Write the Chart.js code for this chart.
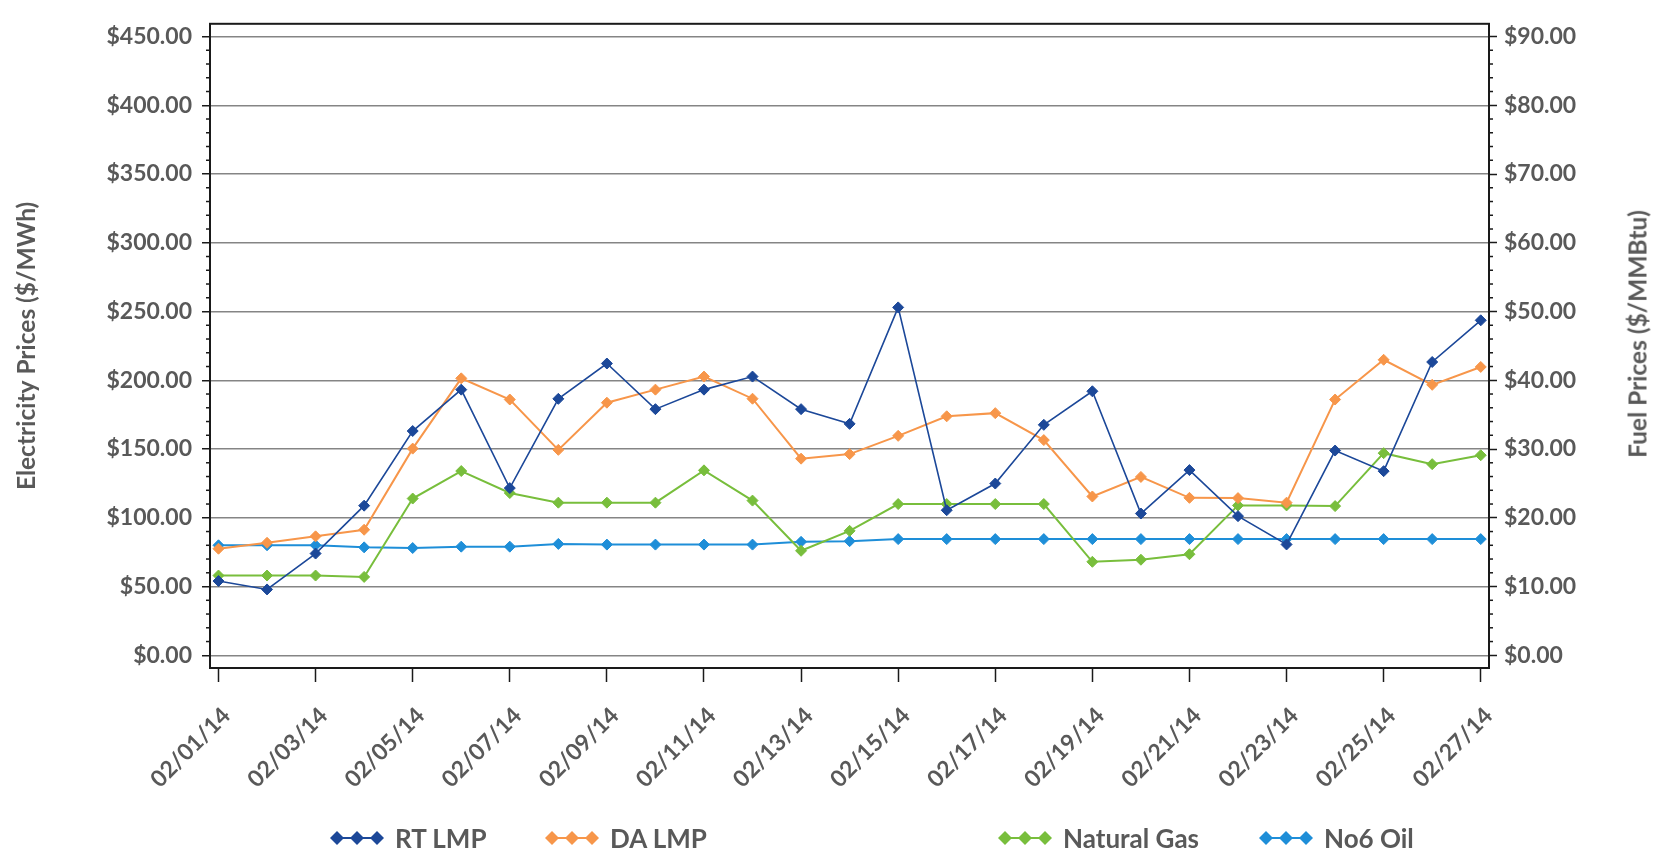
<!DOCTYPE html>
<html>
<head>
<meta charset="utf-8">
<script src="https://cdn.jsdelivr.net/npm/chart.js@4.4.0/dist/chart.umd.min.js"></script>
<style>
  body { margin: 0; background: #fff; }
  #wrap { position: relative; width: 1661px; height: 855px; font-family: Lato, sans-serif; color: #595959; font-weight: bold; }
  #fuelTitle { position: absolute; left: 1637px; top: 334px; transform: translate(-50%, -50%) rotate(-90deg); white-space: nowrap; font-size: 24.5px; }
  .legend-item { position: absolute; top: 838px; transform: translateY(-50%); display: flex; align-items: center; font-size: 26px; white-space: nowrap; }
  .legend-item canvas { margin-right: 11px; }
</style>
</head>
<body>
<div id="wrap">
  <canvas id="priceChart" width="1661" height="855"></canvas>
  <div id="fuelTitle">Fuel Prices ($/MMBtu)</div>
  <div id="legend"></div>
</div>
<script>
const dates = [
  "02/01/14", "02/02/14", "02/03/14", "02/04/14", "02/05/14", "02/06/14", "02/07/14",
  "02/08/14", "02/09/14", "02/10/14", "02/11/14", "02/12/14", "02/13/14", "02/14/14",
  "02/15/14", "02/16/14", "02/17/14", "02/18/14", "02/19/14", "02/20/14", "02/21/14",
  "02/22/14", "02/23/14", "02/24/14", "02/25/14", "02/26/14", "02/27/14"
];
// electricity, $/MWh (left axis)
const rtLmp = [54.0, 47.9, 74.0, 108.8, 163.1, 193.2, 121.6, 186.5, 212.2, 179.0, 193.2, 202.7, 179.0, 168.3,
  253.0, 105.5, 124.9, 167.6, 192.0, 103.1, 134.7, 101.2, 80.6, 148.9, 133.9, 213.3, 243.6];
const daLmp = [77.5, 81.8, 86.5, 91.3, 150.3, 201.4, 186.0, 149.4, 183.7, 193.2, 202.7, 186.6, 143.0, 146.3,
  159.6, 173.8, 176.1, 156.5, 115.5, 129.7, 114.5, 114.3, 111.0, 186.0, 214.9, 196.7, 209.7];
// fuel, $/MMBtu (right axis)
const naturalGas = [11.6, 11.6, 11.6, 11.4, 22.8, 26.8, 23.6, 22.2, 22.2, 22.2, 26.9, 22.5, 15.2, 18.1,
  22.0, 22.0, 22.0, 22.0, 13.6, 13.9, 14.7, 21.8, 21.8, 21.7, 29.4, 27.8, 29.1];
const no6Oil = [16.0, 16.0, 16.0, 15.7, 15.6, 15.8, 15.8, 16.2, 16.1, 16.1, 16.1, 16.1, 16.5, 16.6,
  16.9, 16.9, 16.9, 16.9, 16.9, 16.9, 16.9, 16.9, 16.9, 16.9, 16.9, 16.9, 16.9];

const elecTicks = [0, 50, 100, 150, 200, 250, 300, 350, 400, 450];
const fuelTicks = [0, 10, 20, 30, 40, 50, 60, 70, 80, 90];

const seriesInfo = [
  { label: "RT LMP", data: rtLmp, color: "#1C4899", axis: "y", width: 1.6 },
  { label: "DA LMP", data: daLmp, color: "#F7964A", axis: "y", width: 2 },
  { label: "Natural Gas", data: naturalGas, color: "#78BE3C", axis: "y1", width: 2 },
  { label: "No6 Oil", data: no6Oil, color: "#1E8ED8", axis: "y1", width: 2 },
];

const labelFont = { family: "Lato", size: 23, weight: "bold" };
const titleFont = { family: "Lato", size: 24.5, weight: "bold" };
const textColor = "#595959";

// box outline + minor tick marks on both value axes
const frameAndMinorTicks = {
  id: "frameAndMinorTicks",
  afterDraw(chart) {
    const { ctx, chartArea: a, scales } = chart;
    ctx.save();
    ctx.strokeStyle = "#1a1a1a";
    ctx.lineWidth = 1.5;
    for (let v = 10; v < 450; v += 10) {
      if (v % 50 === 0) continue;
      const y = scales.y.getPixelForValue(v);
      ctx.beginPath(); ctx.moveTo(a.left - 4, y); ctx.lineTo(a.left, y); ctx.stroke();
    }
    for (let v = 2; v < 90; v += 2) {
      if (v % 10 === 0) continue;
      const y = scales.y1.getPixelForValue(v);
      ctx.beginPath(); ctx.moveTo(a.right, y); ctx.lineTo(a.right + 4, y); ctx.stroke();
    }
    ctx.lineWidth = 2;
    ctx.strokeRect(a.left, a.top, a.right - a.left, a.bottom - a.top);
    ctx.restore();
  },
};

const ctx = document.getElementById("priceChart").getContext("2d");
const priceChart = new Chart(ctx, {
  type: "line",
  data: {
    datasets: seriesInfo.map((s) => ({
      label: s.label,
      data: s.data.map((v, i) => ({ x: i, y: v })),
      yAxisID: s.axis,
      borderColor: s.color,
      backgroundColor: s.color,
      borderWidth: s.width,
      pointStyle: "rectRot",
      pointRadius: 5.5,
      pointBorderWidth: 1,
      pointBackgroundColor: s.color,
      tension: 0,
    })),
  },
  options: {
    responsive: false,
    animation: false,
    layout: { padding: { top: 9, left: 0, right: 0, bottom: 0 } },
    plugins: { legend: { display: false }, tooltip: { enabled: false } },
    scales: {
      x: {
        type: "linear",
        min: -0.175,
        max: 26.17,
        afterBuildTicks: (scale) => {
          scale.ticks = dates.map((d, i) => ({ value: i })).filter((t) => t.value % 2 === 0);
        },
        afterFit: (scale) => { scale.height = 187; },
        ticks: {
          autoSkip: false,
          minRotation: 45,
          maxRotation: 45,
          padding: 20,
          labelOffset: 8,
          font: labelFont,
          color: textColor,
          callback: (v) => dates[v],
        },
        grid: { drawOnChartArea: false, tickLength: 14, tickColor: "#1a1a1a", tickWidth: 1.5 },
        border: { display: false },
      },
      y: {
        position: "left",
        min: -9.24,
        max: 459.24,
        afterBuildTicks: (scale) => { scale.ticks = elecTicks.map((v) => ({ value: v })); },
        afterFit: (scale) => { scale.width = 210; },
        ticks: {
          padding: 10,
          font: labelFont,
          color: textColor,
          callback: (v) => "$" + v.toFixed(2),
        },
        grid: { color: "#858585", lineWidth: 1.5, tickLength: 8, tickColor: "#1a1a1a", tickWidth: 1.5 },
        border: { display: false },
        title: {
          display: true,
          text: "Electricity Prices ($/MWh)",
          font: titleFont,
          color: textColor,
          padding: { top: 12, bottom: 0 },
        },
      },
      y1: {
        position: "right",
        min: -1.848,
        max: 91.848,
        afterBuildTicks: (scale) => { scale.ticks = fuelTicks.map((v) => ({ value: v })); },
        afterFit: (scale) => { scale.width = 172; },
        ticks: {
          padding: 7,
          font: labelFont,
          color: textColor,
          callback: (v) => "$" + v.toFixed(2),
        },
        grid: { drawOnChartArea: false, tickLength: 8, tickColor: "#1a1a1a", tickWidth: 1.5 },
        border: { display: false },
      },
    },
  },
  plugins: [frameAndMinorTicks],
});

// legend: three joined diamonds + label, laid out like the original
const legendLeft = [330, 545, 998, 1259];
const legendBox = document.getElementById("legend");
seriesInfo.forEach((s, idx) => {
  const item = document.createElement("div");
  item.className = "legend-item";
  item.style.left = legendLeft[idx] + "px";
  const mark = document.createElement("canvas");
  mark.width = 54;
  mark.height = 16;
  const m = mark.getContext("2d");
  m.strokeStyle = s.color;
  m.fillStyle = s.color;
  m.lineWidth = 2;
  m.beginPath(); m.moveTo(7, 8); m.lineTo(47, 8); m.stroke();
  [7, 27, 47].forEach((cx) => {
    m.beginPath();
    m.moveTo(cx, 1); m.lineTo(cx + 7, 8); m.lineTo(cx, 15); m.lineTo(cx - 7, 8);
    m.closePath(); m.fill();
  });
  item.appendChild(mark);
  const txt = document.createElement("span");
  txt.textContent = s.label;
  item.appendChild(txt);
  legendBox.appendChild(item);
});
</script>
</body>
</html>
